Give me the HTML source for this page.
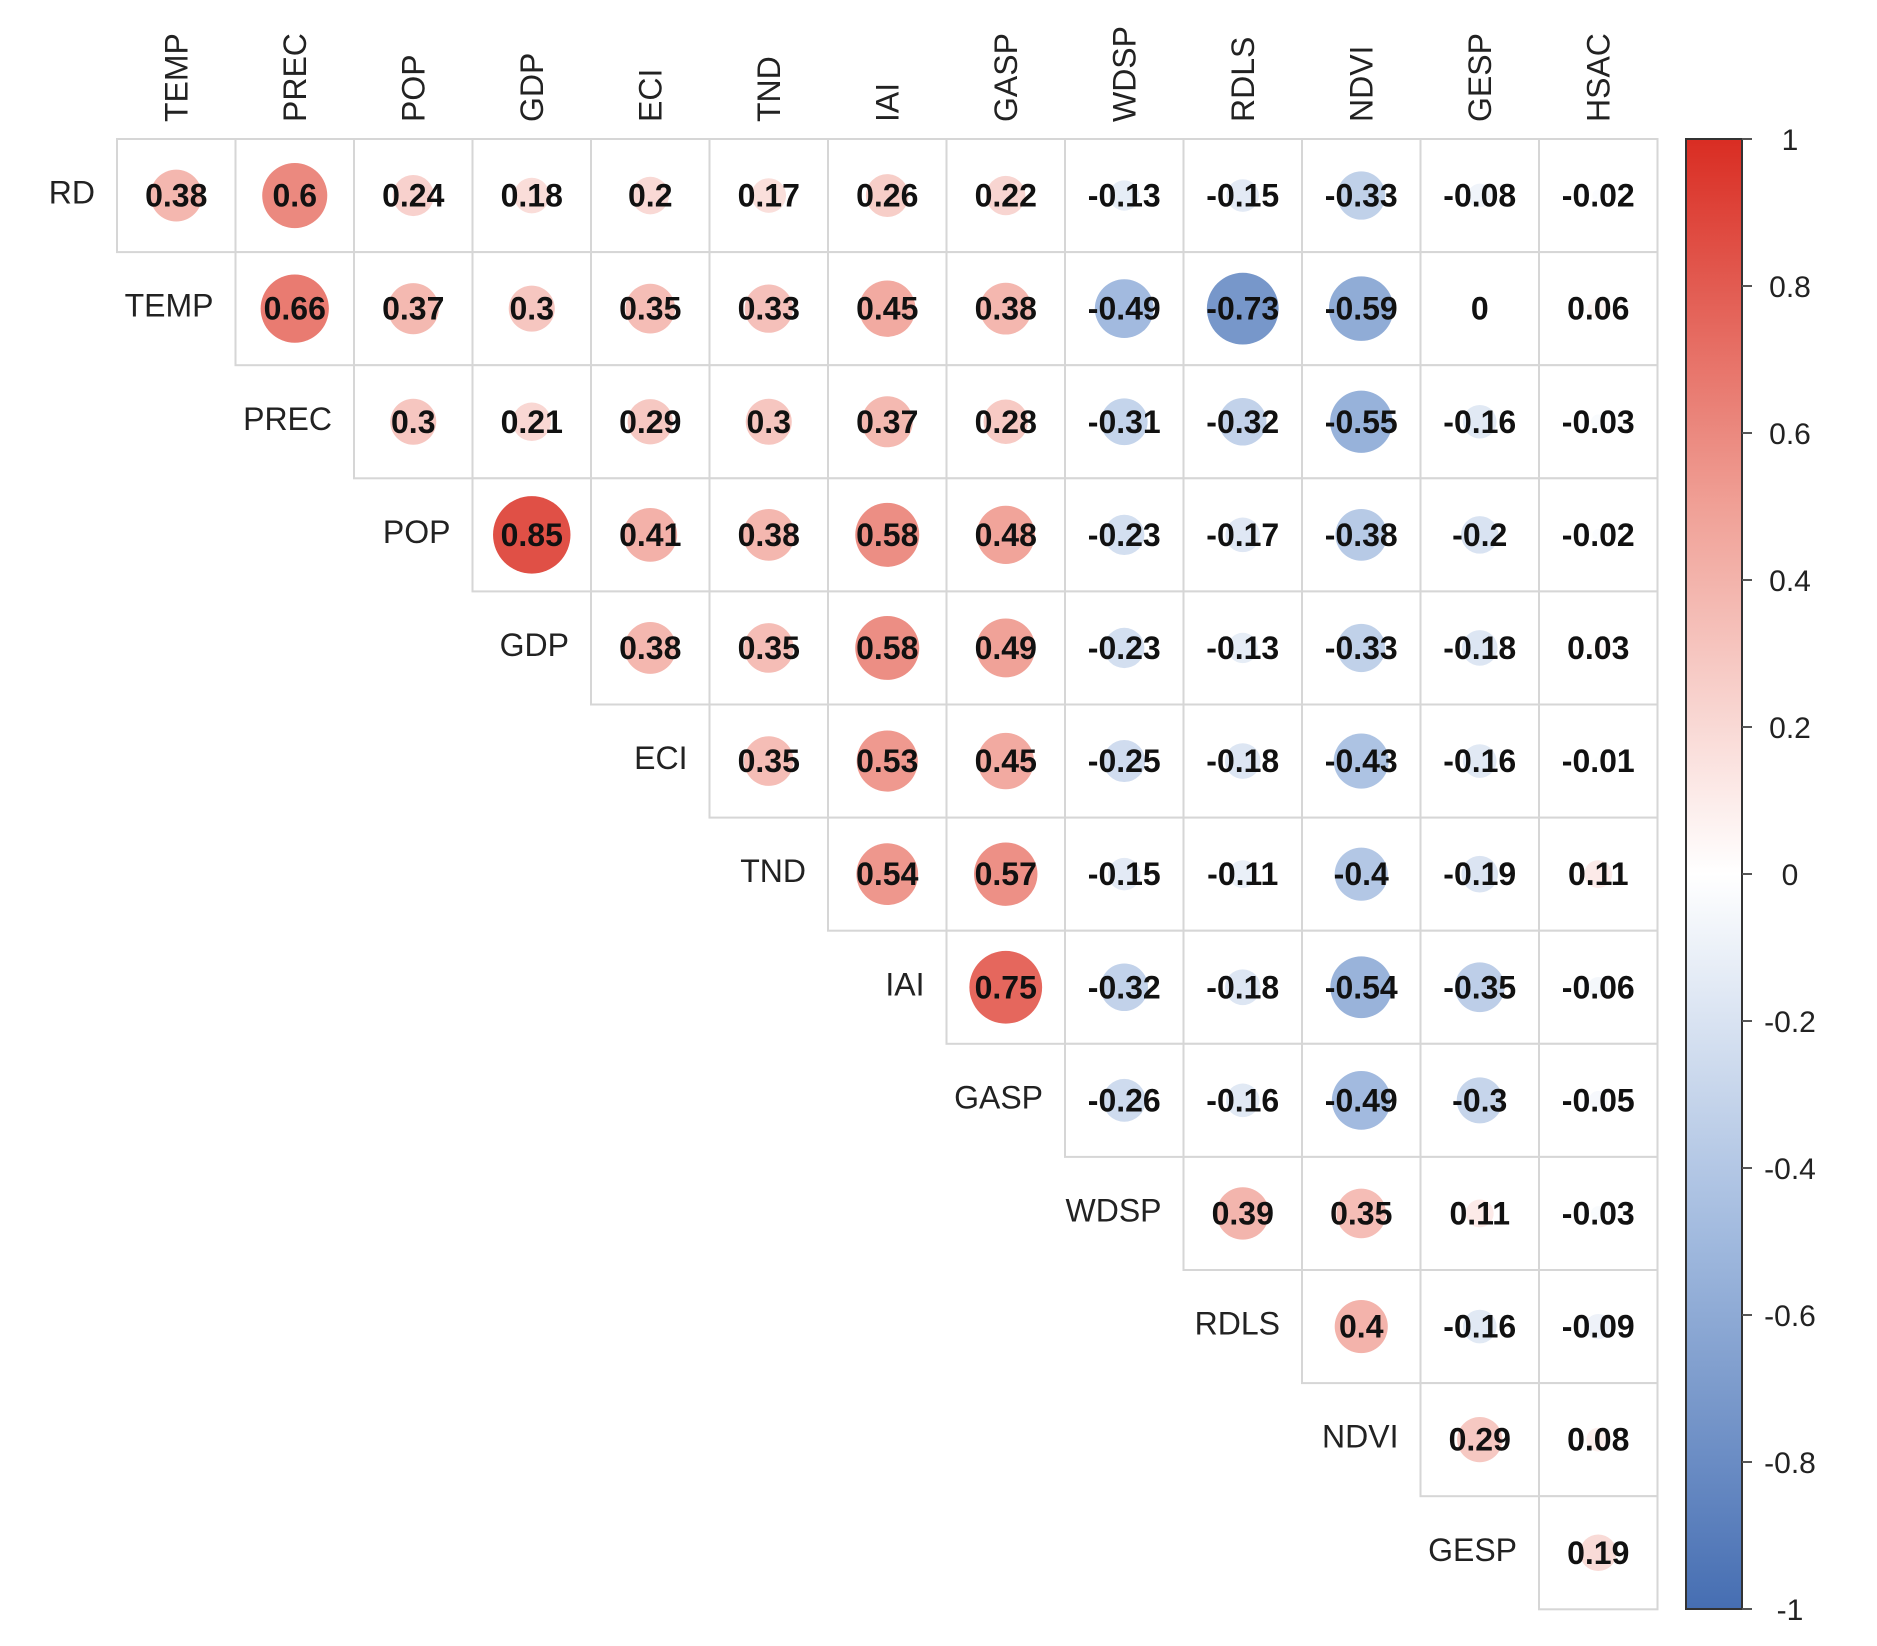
<!DOCTYPE html>
<html><head><meta charset="utf-8"><style>
html,body{margin:0;padding:0;background:#fff;}
svg{display:block;font-family:"Liberation Sans",Arial,sans-serif;}
</style></head><body>
<svg id="chart" width="1877" height="1646" viewBox="0 0 1877 1646"></svg>
<script>
const colLabels = ["TEMP","PREC","POP","GDP","ECI","TND","IAI","GASP","WDSP","RDLS","NDVI","GESP","HSAC"];
const rowLabels = ["RD","TEMP","PREC","POP","GDP","ECI","TND","IAI","GASP","WDSP","RDLS","NDVI","GESP"];
const corrRows = [
 [0.38,0.6,0.24,0.18,0.2,0.17,0.26,0.22,-0.13,-0.15,-0.33,-0.08,-0.02],
 [0.66,0.37,0.3,0.35,0.33,0.45,0.38,-0.49,-0.73,-0.59,0,0.06],
 [0.3,0.21,0.29,0.3,0.37,0.28,-0.31,-0.32,-0.55,-0.16,-0.03],
 [0.85,0.41,0.38,0.58,0.48,-0.23,-0.17,-0.38,-0.2,-0.02],
 [0.38,0.35,0.58,0.49,-0.23,-0.13,-0.33,-0.18,0.03],
 [0.35,0.53,0.45,-0.25,-0.18,-0.43,-0.16,-0.01],
 [0.54,0.57,-0.15,-0.11,-0.4,-0.19,0.11],
 [0.75,-0.32,-0.18,-0.54,-0.35,-0.06],
 [-0.26,-0.16,-0.49,-0.3,-0.05],
 [0.39,0.35,0.11,-0.03],
 [0.4,-0.16,-0.09],
 [0.29,0.08],
 [0.19]
];
const legendTicks = [1,0.8,0.6,0.4,0.2,0,-0.2,-0.4,-0.6,-0.8,-1];
const legendTickLabels = ["1","0.8","0.6","0.4","0.2","0","-0.2","-0.4","-0.6","-0.8","-1"];

const NS="http://www.w3.org/2000/svg";
const svg=document.getElementById('chart');
const X0=117, Y0=139, CW=118.5, RH=113.1, RMAX=42;
const colX=j=>X0+j*CW;
const rowY=i=>Y0+i*RH;
const stops=[[-1,[70,110,178]],[-0.5,[160,185,222]],[0,[255,255,255]],[0.5,[240,160,150]],[1,[217,45,35]]];
function color(v){
  for(let k=0;k<stops.length-1;k++){
    const a=stops[k],b=stops[k+1];
    if(v>=a[0]&&v<=b[0]){const t=(v-a[0])/(b[0]-a[0]);
      const c=a[1].map((x,i)=>Math.round(x+(b[1][i]-x)*t));return `rgb(${c[0]},${c[1]},${c[2]})`;}
  }
  return '#fff';
}
function el(tag,attrs,parent){const e=document.createElementNS(NS,tag);for(const k in attrs)e.setAttribute(k,attrs[k]);(parent||svg).appendChild(e);return e;}

// column headers
colLabels.forEach((lab,j)=>{
  const cx=colX(j)+CW/2+11, y=122;
  const t=el('text',{x:cx,y:y,transform:`rotate(-90 ${cx} ${y})`,'font-size':32,fill:'#222'});
  
  
  t.textContent=lab;
});
// rows
corrRows.forEach((row,i)=>{
  const ly=rowY(i)+RH/2+8;
  const lt=el('text',{x:colX(i)-22,y:ly,'text-anchor':'end','font-size':32,fill:'#222'});
  
  
  lt.textContent=rowLabels[i];
  row.forEach((v,k)=>{
    const j=i+k;
    const g=el('g',{});
    
    
    el('rect',{x:colX(j),y:rowY(i),width:CW,height:RH,fill:'#fff',stroke:'#d6d6d6','stroke-width':2},g);
    const cx=colX(j)+CW/2, cy=rowY(i)+RH/2;
    const c=el('circle',{cx:cx,cy:cy,r:RMAX*Math.sqrt(Math.abs(v)),fill:color(v)},g);
    
    
    const t=el('text',{x:cx,y:cy+11,'text-anchor':'middle','font-size':32,'font-weight':'bold',fill:'#111'},g);
    
    
    t.textContent=String(v);
  });
});
// colorbar
const CBX=1686, CBW=56, CBT=139, CBB=1609;
const cbY=v=>CBT+(1-v)/2*(CBB-CBT);
const defs=el('defs',{});
const grad=el('linearGradient',{id:'cbgrad',x1:0,y1:0,x2:0,y2:1},defs);
for(let s=0;s<=20;s++){const v=1-s/10;el('stop',{offset:(s/20),'stop-color':color(v)},grad);}
const cb=el('rect',{x:CBX,y:CBT,width:CBW,height:CBB-CBT,fill:'url(#cbgrad)',stroke:'#333','stroke-width':2});


legendTicks.forEach((v,k)=>{
  const y=cbY(v);
  const tk=el('line',{x1:CBX+CBW,x2:CBX+CBW+10,y1:y,y2:y,stroke:'#555','stroke-width':2});
  
  
  const t=el('text',{x:1790,y:y+11,'text-anchor':'middle','font-size':30,fill:'#222'});
  
  
  t.textContent=legendTickLabels[k];
});
</script>
</body></html>
